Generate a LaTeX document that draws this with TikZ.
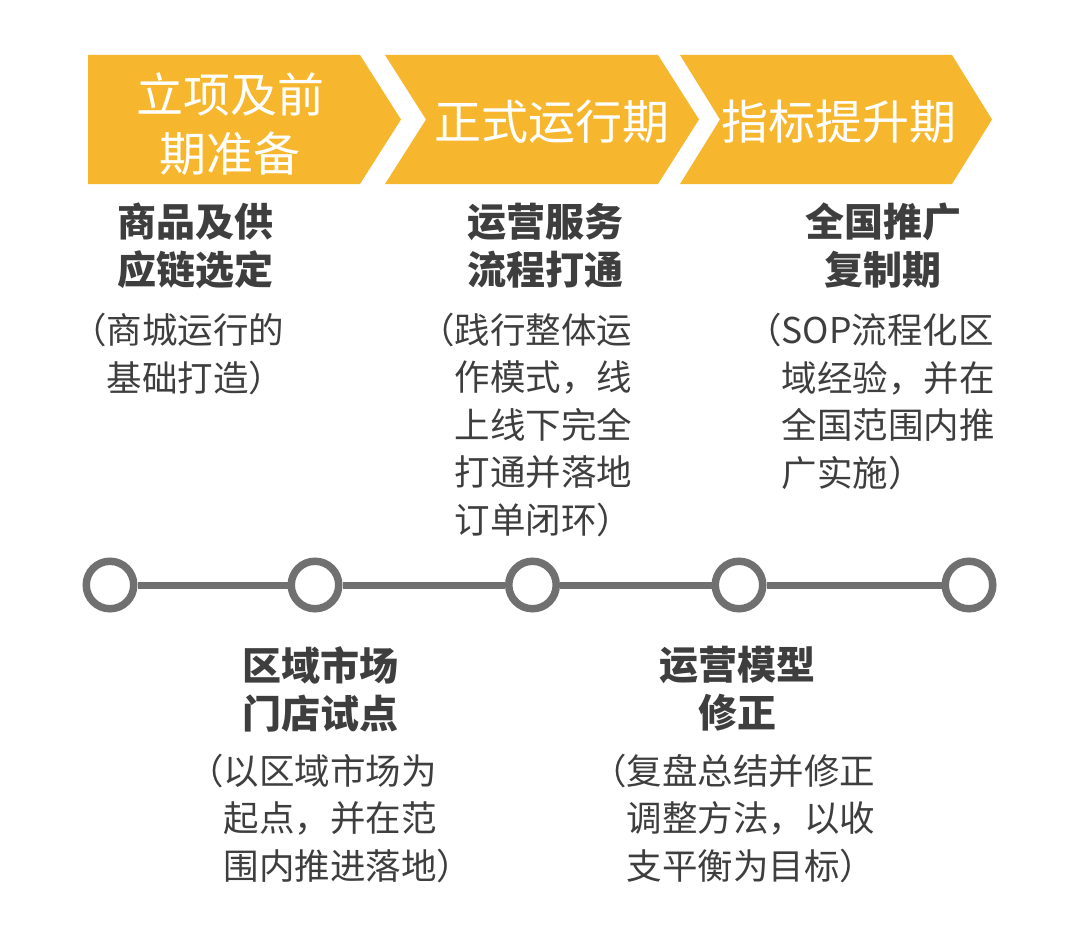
\documentclass[tikz,border=0pt]{standalone}
\usepackage{fontspec}
\setmainfont{Noto Sans CJK SC}
\usepackage{xcolor}
\usepackage{tikz}
\usetikzlibrary{positioning}

\definecolor{phaseorange}{HTML}{F6B72F}
\definecolor{railgray}{HTML}{707070}
\definecolor{inkgray}{HTML}{3E3E3E}

\begin{document}
\begin{tikzpicture}[
  x=1pt, y=-1pt,
  phase/.style={fill=phaseorange},
  phasetxt/.style={text=white, inner sep=0pt, align=center, font=\fontsize{47}{59}\selectfont},
  head/.style={text=inkgray, inner sep=0pt, align=center, font=\fontsize{39}{48}\selectfont\bfseries},
  desc/.style={text=inkgray, inner sep=0pt, anchor=west, align=left, font=\fontsize{35.5}{47.5}\selectfont},
  dot/.style={circle, draw=railgray, fill=white, line width=7.5pt, minimum size=47.5pt, inner sep=0pt},
  rail/.style={draw=railgray, line width=7pt}
]
  \useasboundingbox (0,0) rectangle (1081,947);

  % chevrons
  \fill[phase] (88,55) -- (360,55) -- (401,119.5) -- (360,184) -- (88,184) -- cycle;
  \fill[phase] (385,55) -- (658,55) -- (699,119.5) -- (658,184) -- (385,184) -- (426,119.5) -- cycle;
  \fill[phase] (680,55) -- (952,55) -- (992,119.5) -- (952,184) -- (680,184) -- (720,119.5) -- cycle;
  \node[phasetxt] (p1) at (230,124) {立项及前\\期准备};
  \node[phasetxt] (p2) at (552,122) {正式运行期};
  \node[phasetxt] (p3) at (839,122) {指标提升期};

  % upper milestones
  \node[head] (h1) at (195,246) {商品及供\\应链选定};
  \node[desc] (d1) at (71,354) {（商城运行的\\\hspace*{1em}基础打造）};
  \node[head] (h2) at (545,246) {运营服务\\流程打通};
  \node[desc] (d2) at (419,425) {（践行整体运\\\hspace*{1em}作模式，线\\\hspace*{1em}上线下完全\\\hspace*{1em}打通并落地\\\hspace*{1em}订单闭环）};
  \node[head] (h3) at (883,246) {全国推广\\复制期};
  \node[desc] (d3) at (746,401.5) {（SOP流程化区\\\hspace*{1em}域经验，并在\\\hspace*{1em}全国范围内推\\\hspace*{1em}广实施）};

  % timeline
  \node[dot] (t1) at (110,585) {};
  \node[dot] (t2) at (315,585) {};
  \node[dot] (t3) at (532.5,585) {};
  \node[dot] (t4) at (739,585) {};
  \node[dot] (t5) at (969,585) {};
  \draw[rail] (t1) -- (t2);
  \draw[rail] (t2) -- (t3);
  \draw[rail] (t3) -- (t4);
  \draw[rail] (t4) -- (t5);

  % lower milestones
  \node[head] (h4) at (320,689) {区域市场\\门店试点};
  \node[desc] (d4) at (188,818) {（以区域市场为\\\hspace*{1em}起点，并在范\\\hspace*{1em}围内推进落地）};
  \node[head] (h5) at (737.5,689) {运营模型\\修正};
  \node[desc] (d5) at (591,818) {（复盘总结并修正\\\hspace*{1em}调整方法，以收\\\hspace*{1em}支平衡为目标）};
\end{tikzpicture}
\end{document}
